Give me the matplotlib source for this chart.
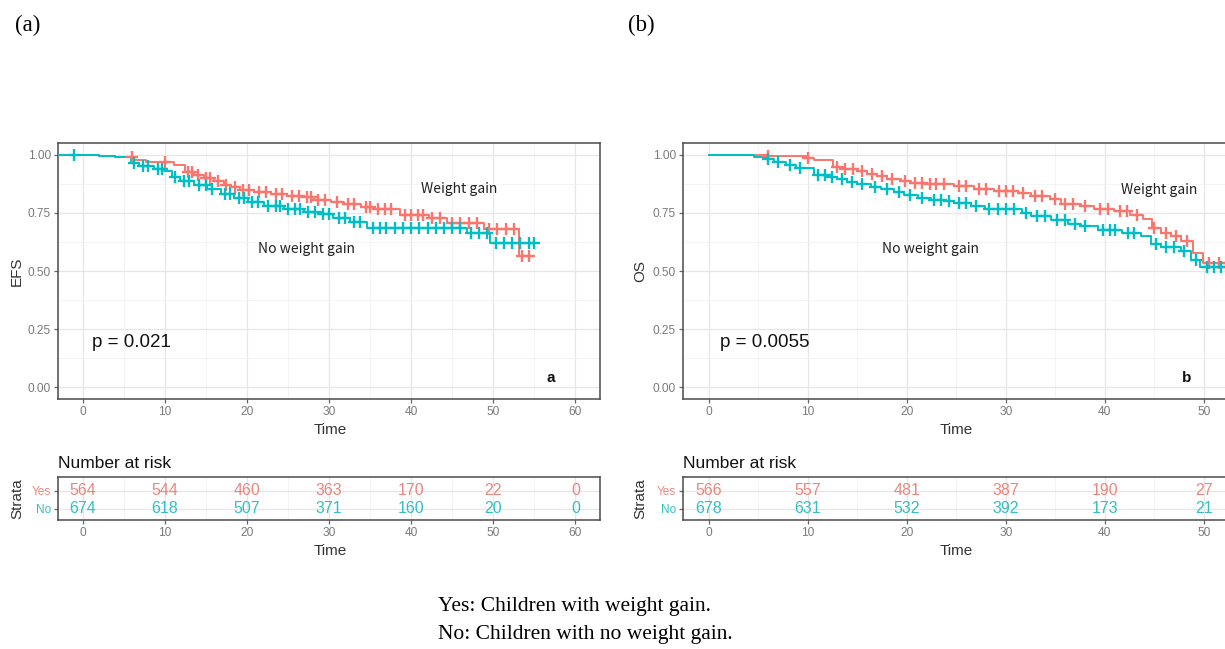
import numpy as np
import matplotlib
matplotlib.use("Agg")
import matplotlib.pyplot as plt
from matplotlib.ticker import MultipleLocator, FixedLocator

# ---------------- data ----------------
# Panel (a) EFS
efs_yes_t = [-2.9, 0, 2, 4, 6.3, 7.7, 11.1, 12.5, 13.6, 14.8, 16.0, 17.2, 18.0, 19.2, 20.9, 22.9,
             24.9, 26.6, 28.2, 30.2, 31.8, 33.9, 35.5, 38.7, 42.2, 44.4, 48.9, 53.1]
efs_yes_s = [1.0, 0.997, 0.993, 0.99, 0.978, 0.97, 0.955, 0.925, 0.914, 0.9, 0.885, 0.87, 0.859, 0.848,
             0.838, 0.83, 0.824, 0.818, 0.806, 0.795, 0.787, 0.777, 0.765, 0.739, 0.726, 0.706, 0.681, 0.563]
efs_yes_end = 54.5
efs_yes_cens = [6.0, 10.0, 12.8, 13.3, 14.0, 15.0, 15.5, 16.5, 17.5, 18.5, 19.5, 20.3, 21.5, 22.3, 23.5,
                24.3, 25.5, 26.3, 27.3, 27.8, 28.6, 29.5, 31.0, 32.3, 33.0, 34.5, 35.0, 36.0, 36.8, 37.5,
                39.2, 40.0, 40.8, 41.5, 42.6, 43.5, 45.0, 46.0, 47.0, 48.0, 49.5, 50.5, 51.5, 52.5, 53.5, 54.3]

efs_no_t = [-2.9, -0.2, 2, 4, 5.85, 6.9, 8.7, 9.9, 10.9, 11.9, 13.6, 15.2, 16.8, 18.4, 20.1, 22.1, 24.5,
            27.0, 29.0, 30.5, 32.5, 34.6, 46.8, 49.6]
efs_no_s = [1.0, 0.997, 0.993, 0.99, 0.966, 0.952, 0.937, 0.928, 0.902, 0.886, 0.868, 0.852, 0.832, 0.815,
            0.795, 0.781, 0.765, 0.752, 0.743, 0.728, 0.711, 0.684, 0.663, 0.62]
efs_no_end = 55.3
efs_no_cens = [-1.1, 6.2, 7.3, 8.0, 9.2, 9.7, 11.3, 12.3, 13.0, 14.2, 15.0, 15.8, 17.3, 18.0, 19.0, 19.7,
               20.6, 21.4, 22.6, 23.5, 24.0, 25.0, 25.8, 26.5, 27.5, 28.3, 29.3, 30.0, 31.2, 32.0, 33.0,
               33.8, 35.3, 36.2, 37.0, 38.0, 39.0, 40.0, 41.0, 42.0, 43.0, 44.0, 45.0, 46.0, 47.3, 48.3,
               49.2, 50.3, 51.3, 52.3, 53.3, 54.3, 55.0]

# Panel (b) OS
os_yes_t = [0, 4.1, 5.9, 9.97, 10.6, 12.6, 13.7, 15.0, 16.0, 17.0, 18.0, 19.4, 20.4, 21.7, 24.8, 26.8,
            28.8, 31.2, 32.5, 34.5, 35.6, 37.6, 38.9, 40.9, 42.6, 43.9, 44.8, 45.7, 46.7, 47.7, 48.9, 49.9]
os_yes_s = [1.0, 0.998, 0.993, 0.985, 0.975, 0.948, 0.94, 0.928, 0.918, 0.908, 0.897, 0.885, 0.879, 0.872,
            0.864, 0.854, 0.845, 0.835, 0.824, 0.811, 0.788, 0.778, 0.768, 0.756, 0.742, 0.725, 0.685,
            0.664, 0.65, 0.628, 0.578, 0.535]
os_yes_end = 55.0
os_yes_cens = [6.0, 10.0, 13.0, 13.8, 14.6, 15.5, 16.5, 17.5, 18.5, 19.8, 20.8, 21.5, 22.3, 23.0, 23.8,
               25.3, 26.0, 27.3, 28.0, 29.3, 30.0, 30.7, 31.7, 33.0, 33.7, 35.0, 36.0, 36.8, 38.0, 39.5,
               40.3, 41.5, 42.2, 43.3, 45.0, 46.2, 47.2, 48.3, 50.5, 51.5, 52.5, 53.5]

os_no_t = [0, 4.1, 4.6, 5.9, 6.6, 7.8, 8.8, 10.6, 12.0, 13.0, 14.0, 15.0, 16.4, 17.4, 18.7, 19.7, 21.1,
           22.4, 23.8, 24.8, 26.5, 27.9, 31.6, 32.6, 34.6, 36.3, 37.6, 39.3, 41.7, 43.7, 44.7, 45.7,
           47.7, 48.7, 49.6]
os_no_s = [1.0, 0.997, 0.99, 0.982, 0.97, 0.955, 0.943, 0.912, 0.902, 0.895, 0.883, 0.873, 0.863, 0.851,
           0.84, 0.825, 0.815, 0.805, 0.8, 0.792, 0.78, 0.768, 0.749, 0.735, 0.721, 0.702, 0.692, 0.678,
           0.664, 0.65, 0.614, 0.602, 0.585, 0.548, 0.519]
os_no_end = 55.0
os_no_cens = [6.0, 7.0, 8.2, 9.2, 11.0, 11.7, 12.5, 13.5, 14.5, 15.5, 16.8, 18.0, 19.2, 20.3, 21.5, 22.8,
              23.5, 24.3, 25.3, 26.0, 27.0, 28.3, 29.2, 30.0, 30.8, 32.0, 33.2, 34.0, 35.2, 36.0, 37.0,
              38.0, 39.8, 40.5, 41.0, 42.3, 43.0, 45.2, 46.2, 47.0, 48.0, 49.2, 50.3, 51.0, 51.7, 52.5, 53.3]

risk_times = [0, 10, 20, 30, 40, 50, 60]
efs_risk_yes = [564, 544, 460, 363, 170, 22, 0]
efs_risk_no = [674, 618, 507, 371, 160, 20, 0]
os_risk_yes = [566, 557, 481, 387, 190, 27, 0]
os_risk_no = [678, 631, 532, 392, 173, 21, 0]

strata_labels = ["Yes", "No"]
x_ticks = [0, 10, 20, 30, 40, 50, 60]
y_ticks = [0.0, 0.25, 0.5, 0.75, 1.0]

# ---------------- style ----------------
RED = "#F8766D"
TEAL = "#00BFC4"
RED_T = "#E8877F"
TEAL_T = "#33BFC2"
W, H = 1225, 649
fig = plt.figure(figsize=(W / 100, H / 100), dpi=100)

SANS = ["Liberation Sans", "DejaVu Sans"]
SERIF = ["Liberation Serif", "DejaVu Serif"]
JP = ["Noto Sans CJK JP", "DejaVu Sans"]


def fx(px):
    return px / W


def fy(py):
    return 1 - py / H


def style_axes(ax, xlim, ylim):
    ax.set_xlim(*xlim)
    ax.set_ylim(*ylim)
    ax.set_facecolor("white")
    for s in ax.spines.values():
        s.set_color("#4a4a4a")
        s.set_linewidth(1.1)
    ax.tick_params(axis="both", which="major", length=3, width=0.9, color="#666666",
                   labelsize=8.6, labelcolor="#7a7a7a", pad=2)
    ax.tick_params(axis="both", which="minor", length=0)
    for lab in ax.get_xticklabels() + ax.get_yticklabels():
        lab.set_fontfamily(SANS)


def km(ax, t, s, end, cens, color):
    tt = list(t) + [end]
    ss = list(s) + [s[-1]]
    ax.step(tt, ss, where="post", color=color, lw=1.4, zorder=3)
    idx = np.searchsorted(np.array(t), np.array(cens), side="right") - 1
    cv = np.array(s)[idx]
    ax.plot(cens, cv, ls="none", marker="+", ms=8.5, mew=1.7, color=color, zorder=4)


def main_panel(rect, xlim, curves, pval, letter, wg_pos, nwg_pos):
    ax = fig.add_axes(rect)
    ax.xaxis.set_major_locator(FixedLocator(x_ticks))
    ax.xaxis.set_minor_locator(MultipleLocator(5))
    ax.yaxis.set_major_locator(FixedLocator(y_ticks))
    ax.yaxis.set_minor_locator(MultipleLocator(0.125))
    ax.set_yticklabels(["%.2f" % v for v in y_ticks])
    ax.grid(which="major", color="#E6E6E6", lw=0.9, zorder=0)
    ax.grid(which="minor", color="#F2F2F2", lw=0.6, zorder=0)
    ax.set_axisbelow(True)
    for (t, s, end, cens, col) in curves:
        km(ax, t, s, end, cens, col)
    style_axes(ax, xlim, (-0.05, 1.05))
    ax.text(1.1, 0.194, pval, fontsize=13.5, family=SANS, color="#111111", va="center", ha="left")
    ax.text(letter[0], 0.04, letter[1], fontsize=11, family=SANS, weight="bold", color="#111111",
            va="center", ha="center")
    ax.text(wg_pos[0], wg_pos[1], "Weight gain", fontsize=10, family=JP, color="#222222",
            va="center", ha="center")
    ax.text(nwg_pos[0], nwg_pos[1], "No weight gain", fontsize=10, family=JP, color="#222222",
            va="center", ha="center")
    return ax


def risk_panel(rect, xlim, yes, no, xmax_visible):
    ax = fig.add_axes(rect)
    ax.xaxis.set_major_locator(FixedLocator(x_ticks))
    ax.xaxis.set_minor_locator(MultipleLocator(5))
    ax.set_yticks([1, 0])
    ax.set_yticklabels(strata_labels)
    ax.grid(which="major", color="#E6E6E6", lw=0.9, zorder=0)
    ax.grid(which="minor", axis="x", color="#F2F2F2", lw=0.6, zorder=0)
    ax.set_axisbelow(True)
    for tm, a, b in zip(risk_times, yes, no):
        if tm <= xmax_visible:
            ax.text(tm, 1, str(a), color=RED_T, fontsize=11.5, family=SANS, ha="center", va="center",
                    zorder=3)
            ax.text(tm, 0, str(b), color=TEAL_T, fontsize=11.5, family=SANS, ha="center", va="center",
                    zorder=3)
    style_axes(ax, xlim, (-0.62, 1.75))
    ax.tick_params(axis="y", labelsize=8.6)
    labs = ax.get_yticklabels()
    labs[0].set_color(RED_T)
    labs[1].set_color(TEAL_T)
    return ax


# Panel a
xa = (-3.0, 63.0)
rect_a = [fx(58), fy(399), fx(542), 256 / H]
main_panel(rect_a, xa,
           [(efs_yes_t, efs_yes_s, efs_yes_end, efs_yes_cens, RED),
            (efs_no_t, efs_no_s, efs_no_end, efs_no_cens, TEAL)],
           "p = 0.021", (57.0, "a"), (45.8, 0.853), (27.2, 0.595))
risk_panel([fx(58), fy(520), fx(542), 43 / H], xa, efs_risk_yes, efs_risk_no, 60)

# Panel b (right part cut off by the figure edge, as in the reference)
xb = (-2.6, 57.6)
rect_b = [fx(683), fy(399), fx(596), 256 / H]
main_panel(rect_b, xb,
           [(os_yes_t, os_yes_s, os_yes_end, os_yes_cens, RED),
            (os_no_t, os_no_s, os_no_end, os_no_cens, TEAL)],
           "p = 0.0055", (48.3, "b"), (45.5, 0.85), (22.4, 0.595))
risk_panel([fx(683), fy(520), fx(596), 43 / H], xb, os_risk_yes, os_risk_no, 50)

# Axis titles and labels placed in figure coordinates
for x0, lab in [(17, "EFS"), (640, "OS")]:
    fig.text(fx(x0), fy(271), lab, rotation=90, fontsize=11, family=SANS, color="#333333",
             ha="center", va="center")
for x0 in (17, 640):
    fig.text(fx(x0), fy(499), "Strata", rotation=90, fontsize=11, family=SANS, color="#333333",
             ha="center", va="center")
for xc in (330, 956):
    fig.text(fx(xc), fy(430), "Time", fontsize=11, family=SANS, color="#333333", ha="center", va="center")
    fig.text(fx(xc), fy(551), "Time", fontsize=11, family=SANS, color="#333333", ha="center", va="center")
for x0 in (58, 683):
    fig.text(fx(x0), fy(463), "Number at risk", fontsize=12.5, family=SANS, color="#111111",
             ha="left", va="center")

fig.text(fx(15), fy(25), "(a)", fontsize=16.5, family=SERIF, color="black", ha="left", va="center")
fig.text(fx(628), fy(25), "(b)", fontsize=16.5, family=SERIF, color="black", ha="left", va="center")
fig.text(fx(438), fy(606), "Yes: Children with weight gain.", fontsize=15.5, family=SERIF,
         color="black", ha="left", va="center")
fig.text(fx(438), fy(634), "No: Children with no weight gain.", fontsize=15.5, family=SERIF,
         color="black", ha="left", va="center")

fig.savefig("out.png", dpi=100, facecolor="white")
